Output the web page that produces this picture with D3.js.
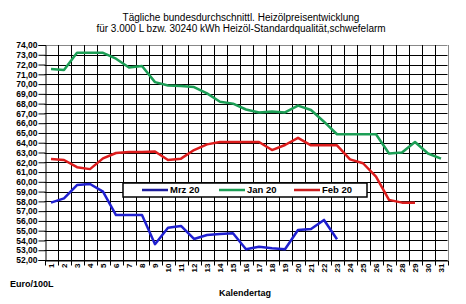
<!DOCTYPE html>
<html>
<head>
<meta charset="utf-8">
<script src="https://cdn.jsdelivr.net/npm/d3@7"></script>
<style>
  body { margin: 0; background: #fff; }
  text { font-family: "Liberation Sans", Arial, sans-serif; }
</style>
</head>
<body>
<script>
var width = 466,
    height = 304;

var days = d3.range(1, 32);
var yTicks = d3.range(52, 75);

var mrz20 = [57.87, 58.31, 59.67, 59.78, 58.99, 56.6, 56.6, 56.6, 53.62, 55.31, 55.48, 54.15,
    54.56, 54.66, 54.73, 53.1, 53.36, 53.2, 53.1, 55.07, 55.17, 56.1, 54.12];
var jan20 = [71.54, 71.44, 73.2, 73.2, 73.2, 72.6, 71.7, 71.85, 70.2, 69.85, 69.8, 69.7, 69.05,
    68.2, 68.0, 67.4, 67.1, 67.2, 67.1, 67.8, 67.35, 66.15, 64.87, 64.87, 64.87, 64.87,
    62.9, 63.0, 64.08, 62.9, 62.38];
var feb20 = [62.33, 62.23, 61.5, 61.3, 62.4, 62.95, 63.05, 63.05, 63.1, 62.23, 62.37, 63.25,
    63.83, 64.07, 64.07, 64.07, 64.07, 63.25, 63.77, 64.5, 63.73, 63.73, 63.73, 62.3,
    61.9, 60.53, 58.15, 57.87, 57.87];

var series = [
  {name: "Mrz 20", values: mrz20, color: "#1f1fd0", legendColor: "#1c1c9c"},
  {name: "Jan 20", values: jan20, color: "#1c9e55", legendColor: "#1c9e55"},
  {name: "Feb 20", values: feb20, color: "#dc1c1c", legendColor: "#c81c1c"}
];

var plotLeft = 44.5, plotRight = 447.5, plotTop = 45, plotBottom = 260;

var svg = d3.select("body").append("svg")
    .attr("width", width)
    .attr("height", height)
    .style("background", "#fff");

var x = d3.scaleBand()
    .domain(days)
    .range([plotLeft, plotRight]);

var y = d3.scaleLinear()
    .domain([52, 74])
    .range([plotBottom, plotTop]);

// title
svg.append("text")
    .attr("x", 241).attr("y", 21)
    .attr("text-anchor", "middle")
    .style("font-size", "10px")
    .text("Tägliche bundesdurchschnittl. Heizölpreisentwicklung");
svg.append("text")
    .attr("x", 241).attr("y", 32)
    .attr("text-anchor", "middle")
    .style("font-size", "10px")
    .text("für 3.000 L bzw. 30240 kWh Heizöl-Standardqualität,schwefelarm");

// grid
svg.append("g").selectAll("line")
    .data(yTicks)
    .enter().append("line")
    .attr("x1", plotLeft).attr("x2", plotRight)
    .attr("y1", function(d) { return Math.round(y(d)) + 0.5; })
    .attr("y2", function(d) { return Math.round(y(d)) + 0.5; })
    .attr("stroke", function(d) { return d === 74 ? "#888" : "#000"; })
    .attr("stroke-width", 1);

svg.append("g").selectAll("line")
    .data(days.slice(1))
    .enter().append("line")
    .attr("x1", function(d) { return Math.round(x(d)) + 0.5; })
    .attr("x2", function(d) { return Math.round(x(d)) + 0.5; })
    .attr("y1", plotTop).attr("y2", plotBottom)
    .attr("stroke", "#000");

svg.append("line")
    .attr("x1", Math.round(plotRight) + 0.5).attr("x2", Math.round(plotRight) + 0.5)
    .attr("y1", plotTop).attr("y2", plotBottom)
    .attr("stroke", "#888");

// y axis
var yAxis = d3.axisLeft(y)
    .tickValues(yTicks)
    .tickSize(7)
    .tickFormat(function(d) { return d3.format(".2f")(d).replace(".", ","); });

var gy = svg.append("g")
    .attr("transform", "translate(" + (Math.round(plotLeft) + 0.5) + ",0)")
    .call(yAxis);
gy.select(".domain").attr("stroke", "#000");
gy.selectAll("text")
    .attr("x", -8)
    .style("font-size", "8.5px")
    .style("font-weight", "bold")
    .attr("fill", "#000");

// x axis
var gx = svg.append("g")
    .attr("transform", "translate(0," + (plotBottom + 0.5) + ")")
    .call(d3.axisBottom(x).tickSize(0).tickSizeOuter(0));
gx.select(".domain").attr("stroke", "#000");
gx.selectAll(".tick text")
    .attr("transform", "rotate(-90)")
    .attr("x", -3).attr("y", 0).attr("dy", "0.35em")
    .attr("text-anchor", "end")
    .style("font-size", "8px")
    .style("font-weight", "bold")
    .attr("fill", "#000");

gx.selectAll(".xtick")
    .data(days.concat([32]))
    .enter().append("line")
    .attr("class", "xtick")
    .attr("x1", function(d, i) { return Math.round(plotLeft + i * x.bandwidth()) + 0.5; })
    .attr("x2", function(d, i) { return Math.round(plotLeft + i * x.bandwidth()) + 0.5; })
    .attr("y1", 0).attr("y2", 5)
    .attr("stroke", "#000");

// lines
var line = d3.line()
    .x(function(d, i) { return x(days[i]) + x.bandwidth() / 2; })
    .y(function(d) { return y(d); });

svg.append("g").selectAll("path")
    .data(series)
    .enter().append("path")
    .attr("d", function(s) { return line(s.values); })
    .attr("fill", "none")
    .attr("stroke", function(s) { return s.color; })
    .attr("stroke-width", 2.5)
    .attr("stroke-linejoin", "round");

// legend
var legend = svg.append("g");
legend.append("rect")
    .attr("x", 123).attr("y", 183)
    .attr("width", 244).attr("height", 14)
    .attr("fill", "#fff")
    .attr("stroke", "#000")
    .attr("stroke-width", 1.5);

var legendX = [142, 219, 294];
var items = legend.selectAll(".item")
    .data(series)
    .enter().append("g")
    .attr("class", "item")
    .attr("transform", function(d, i) { return "translate(" + legendX[i] + ",190)"; });
items.append("line")
    .attr("x1", 0).attr("x2", 26)
    .attr("stroke", function(d) { return d.legendColor; })
    .attr("stroke-width", 2.5);
items.append("text")
    .attr("x", 28).attr("dy", "0.35em")
    .style("font-size", "9.5px")
    .style("font-weight", "bold")
    .text(function(d) { return d.name; });

// axis titles
svg.append("text")
    .attr("x", 10).attr("y", 287)
    .style("font-size", "9px")
    .style("font-weight", "bold")
    .text("Euro/100L");
svg.append("text")
    .attr("x", 245).attr("y", 296)
    .attr("text-anchor", "middle")
    .style("font-size", "9px")
    .style("font-weight", "bold")
    .text("Kalendertag");
</script>
</body>
</html>
